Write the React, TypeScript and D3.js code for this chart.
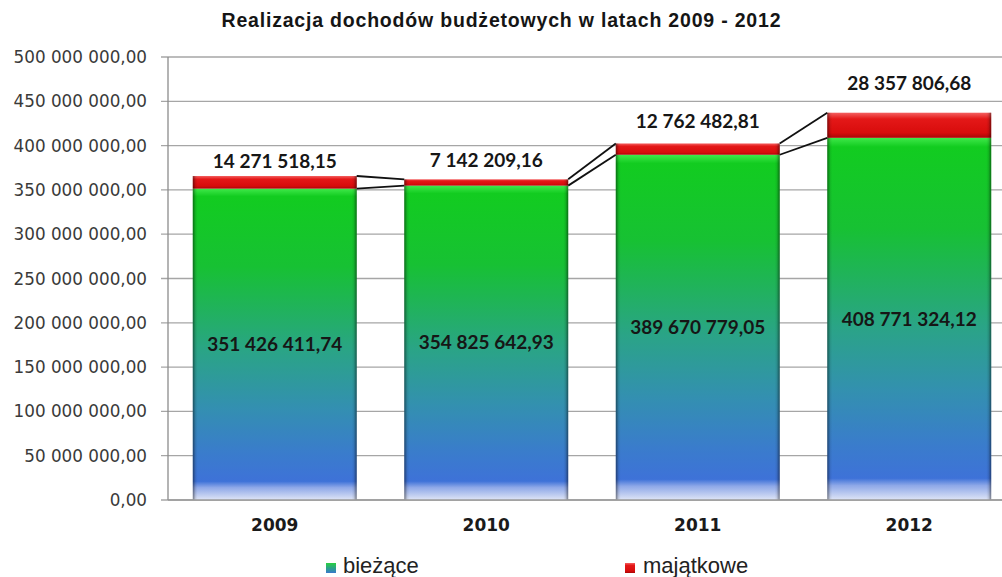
import React from "react";
import * as d3 from "d3";

const categories = ["2009", "2010", "2011", "2012"];
const biezace = [351426411.74, 354825642.93, 389670779.05, 408771324.12];
const majatkowe = [14271518.15, 7142209.16, 12762482.81, 28357806.68];
const yTicks = [0, 50e6, 100e6, 150e6, 200e6, 250e6, 300e6, 350e6, 400e6, 450e6, 500e6];
const seriesNames = ["bieżące", "majątkowe"];
const title = "Realizacja dochodów budżetowych w latach 2009 - 2012";

// layout constants
const W = 1002;
const H = 577;
const axisX = 168;
const yTop = 57;
const yBottom = 500;
const majLabelLift = [15, 19, 22, 29];

const pl = d3.formatLocale({ decimal: ",", thousands: " ", grouping: [3], currency: ["", " zł"] });
const fmt = pl.format(",.2f");

export default function App() {
  const x = d3
    .scaleBand<string>()
    .domain(categories)
    .range([axisX + 1, axisX + 1 + 4 * 211.5])
    .paddingInner(0.225)
    .paddingOuter(0.1125);
  const y = d3.scaleLinear().domain([0, 500e6]).range([yBottom, yTop]);
  const bw = x.bandwidth();

  const bars = categories.map((c, i) => {
    const x0 = x(c) as number;
    const gTop = y(biezace[i]);
    const rTop = y(biezace[i] + majatkowe[i]);
    return { c, i, x0, gTop, rTop };
  });

  const lineGen = d3.line<[number, number]>();

  return (
    <svg
      width={W}
      height={H}
      style={{ position: "absolute", left: 0, top: 0, background: "#fff" }}
      xmlns="http://www.w3.org/2000/svg"
    >
      <defs>
        <linearGradient id="gGreen" x1="0" y1="0" x2="0" y2="1">
          <stop offset="0" stopColor="#3fe84a" />
          <stop offset="0.025" stopColor="#12cc20" />
          <stop offset="0.25" stopColor="#17c133" />
          <stop offset="0.38" stopColor="#20b35a" />
          <stop offset="0.52" stopColor="#2aa486" />
          <stop offset="0.7" stopColor="#3390b0" />
          <stop offset="0.85" stopColor="#3a7ccc" />
          <stop offset="0.94" stopColor="#3e72d8" />
          <stop offset="0.96" stopColor="#8ea8e8" />
          <stop offset="1" stopColor="#dfe5f6" />
        </linearGradient>
        <linearGradient id="gRed" x1="0" y1="0" x2="0" y2="1">
          <stop offset="0" stopColor="#f46060" />
          <stop offset="0.25" stopColor="#e41818" />
          <stop offset="0.8" stopColor="#d80c0c" />
          <stop offset="1" stopColor="#a80606" />
        </linearGradient>
        <linearGradient id="gEdge" x1="0" y1="0" x2="1" y2="0">
          <stop offset="0" stopColor="#000" stopOpacity="0.45" />
          <stop offset="0.018" stopColor="#000" stopOpacity="0.08" />
          <stop offset="0.03" stopColor="#000" stopOpacity="0" />
          <stop offset="0.97" stopColor="#000" stopOpacity="0" />
          <stop offset="0.982" stopColor="#000" stopOpacity="0.08" />
          <stop offset="1" stopColor="#000" stopOpacity="0.45" />
        </linearGradient>
        <linearGradient id="gLegGreen" x1="0" y1="0" x2="0" y2="1">
          <stop offset="0" stopColor="#2ad040" />
          <stop offset="0.5" stopColor="#2aa486" />
          <stop offset="1" stopColor="#3a78cc" />
        </linearGradient>
      </defs>

      {/* title */}
      <text
        x={501}
        y={27}
        textAnchor="middle"
        fontFamily="'Liberation Sans', Arial, sans-serif"
        fontWeight="bold"
        fontSize={19.5}
        fill="#151515"
        textLength={559}
        lengthAdjust="spacing"
      >
        {title}
      </text>

      {/* gridlines & ticks */}
      {yTicks.map((t) => (
        <g key={t}>
          <line x1={axisX - 7} x2={W + 20} y1={y(t)} y2={y(t)} stroke="#a6a6a6" strokeWidth={1.3} />
          <text
            x={147}
            y={y(t)}
            dy="0.36em"
            textAnchor="end"
            fontFamily="'DejaVu Sans', Verdana, sans-serif"
            fontSize={16.8}
            fill="#3a3a3a"
          >
            {fmt(t)}
          </text>
        </g>
      ))}
      <line x1={axisX} x2={axisX} y1={yTop} y2={yBottom} stroke="#8c8c8c" strokeWidth={1.3} />

      {/* bars */}
      {bars.map((b) => (
        <g key={b.c}>
          <rect x={b.x0} y={b.gTop} width={bw} height={yBottom - b.gTop} fill="url(#gGreen)" />
          <rect x={b.x0} y={b.gTop} width={bw} height={yBottom - b.gTop} fill="url(#gEdge)" />
          <rect x={b.x0} y={b.rTop} width={bw} height={b.gTop - b.rTop} fill="url(#gRed)" />
          <rect x={b.x0} y={b.rTop} width={bw} height={b.gTop - b.rTop} fill="url(#gEdge)" />
        </g>
      ))}
      <line x1={axisX} x2={W + 20} y1={yBottom} y2={yBottom} stroke="#9a9a9a" strokeWidth={1.3} />

      {/* series lines */}
      {bars.slice(0, -1).map((b, k) => {
        const n = bars[k + 1];
        return (
          <g key={"sl" + b.c}>
            <path
              d={lineGen([[b.x0 + bw, b.rTop], [n.x0, n.rTop]]) as string}
              stroke="#111"
              strokeWidth={1.8}
              fill="none"
            />
            <path
              d={lineGen([[b.x0 + bw, b.gTop], [n.x0, n.gTop]]) as string}
              stroke="#111"
              strokeWidth={1.8}
              fill="none"
            />
          </g>
        );
      })}

      {/* data labels */}
      {bars.map((b) => (
        <g key={"lb" + b.c} fontFamily="Lato, 'Open Sans', sans-serif" fontWeight="bold" fontSize={19} fill="#161616">
          <text x={b.x0 + bw / 2} y={(b.gTop + yBottom) / 2} dy="0.35em" textAnchor="middle">
            {fmt(biezace[b.i])}
          </text>
          <text x={b.x0 + bw / 2} y={b.rTop - majLabelLift[b.i]} dy="0.35em" textAnchor="middle">
            {fmt(majatkowe[b.i])}
          </text>
        </g>
      ))}

      {/* x labels */}
      {categories.map((c) => (
        <text
          key={"x" + c}
          x={(x(c) as number) + bw / 2}
          y={531}
          textAnchor="middle"
          fontFamily="'DejaVu Sans', Verdana, sans-serif"
          fontWeight="bold"
          fontSize={17}
          fill="#1a1a1a"
        >
          {c}
        </text>
      ))}

      {/* legend */}
      <rect x={326} y={563} width={10} height={10} fill="url(#gLegGreen)" />
      <text x={343} y={573} fontFamily="'Liberation Sans', Arial, sans-serif" fontSize={22} fill="#222">
        {seriesNames[0]}
      </text>
      <rect x={625} y={563} width={10} height={10} fill="url(#gRed)" />
      <text x={643} y={573} fontFamily="'Liberation Sans', Arial, sans-serif" fontSize={22} fill="#222">
        {seriesNames[1]}
      </text>
    </svg>
  );
}
